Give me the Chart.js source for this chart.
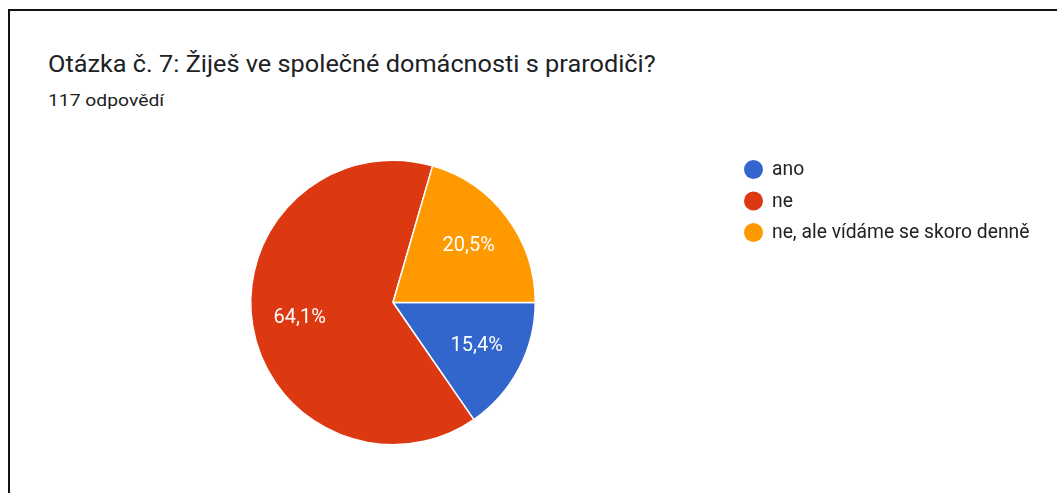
<!DOCTYPE html>
<html lang="cs">
<head>
    <meta charset="UTF-8">
    <script src="https://cdn.jsdelivr.net/npm/chart.js@4"></script>
    <title>Otázka č. 7</title>
    <style>
        body { margin: 0; background: #fff; font-family: Roboto, Arial, sans-serif; }
        #card {
            position: absolute; left: 8px; top: 9px; width: 1200px; height: 600px;
            border: 2px solid #111; box-sizing: border-box;
        }
        #title {
            position: absolute; left: 48px; top: 50px; font-size: 23px; color: #202124;
            white-space: nowrap; line-height: 30px;
            transform: scaleX(1.1); transform-origin: left center;
        }
        #subtitle {
            position: absolute; left: 48px; top: 90px; font-size: 16.5px; color: #202124;
            white-space: nowrap; line-height: 22px;
            transform: scaleX(1.17); transform-origin: left center;
        }
        #wrap { position: absolute; left: 0; top: 0; width: 1057px; height: 493px; }
    </style>
</head>
<body>
    <div id="card"></div>
    <div id="title">Otázka č. 7: Žiješ ve společné domácnosti s prarodiči?</div>
    <div id="subtitle">117 odpovědí</div>
    <div id="wrap"><canvas id="myChart" width="1057" height="493"></canvas></div>

    <script>
        const labels = ['ano', 'ne', 'ne, ale vídáme se skoro denně'];
        const counts = [18, 75, 24];
        const colors = ['#3366cc', '#dc3912', '#ff9900'];

        const total = counts.reduce((a, b) => a + b, 0);
        const pct = v => (v / total * 100).toFixed(1).replace('.', ',') + '%';

        // percentages inside the slices
        const sliceLabels = {
            id: 'sliceLabels',
            afterDatasetsDraw(chart) {
                const ctx = chart.ctx;
                const meta = chart.getDatasetMeta(0);
                ctx.save();
                ctx.font = '20px Roboto';
                ctx.fillStyle = '#ffffff';
                ctx.textAlign = 'center';
                ctx.textBaseline = 'middle';
                meta.data.forEach((arc, i) => {
                    const p = arc.getProps(['x', 'y', 'startAngle', 'endAngle', 'outerRadius']);
                    const mid = (p.startAngle + p.endAngle) / 2;
                    const r = p.outerRadius * 0.665;
                    ctx.fillText(pct(counts[i]), p.x + Math.cos(mid) * r, p.y + Math.sin(mid) * r);
                });
                ctx.restore();
            }
        };

        // legend on the right
        const sideLegend = {
            id: 'sideLegend',
            afterDraw(chart) {
                const ctx = chart.ctx;
                ctx.save();
                ctx.font = '19.3px Roboto';
                ctx.textBaseline = 'middle';
                labels.forEach((lab, i) => {
                    const y = 169.5 + i * 31.5;
                    ctx.fillStyle = colors[i];
                    ctx.beginPath();
                    ctx.arc(753.5, y, 9.5, 0, Math.PI * 2);
                    ctx.fill();
                    ctx.fillStyle = '#222222';
                    ctx.fillText(lab, 772, y + 1);
                });
                ctx.restore();
            }
        };

        let ctx = document.getElementById('myChart').getContext('2d');
        new Chart(ctx, {
            type: 'pie',
            data: {
                labels: labels,
                datasets: [{
                    data: counts,
                    backgroundColor: colors,
                    borderColor: '#ffffff',
                    borderWidth: 1.5
                }]
            },
            options: {
                responsive: false,
                animation: false,
                rotation: 90,
                layout: {
                    padding: { left: 250, top: 159, right: 521, bottom: 47 }
                },
                plugins: {
                    legend: { display: false },
                    tooltip: { enabled: false }
                }
            },
            plugins: [sliceLabels, sideLegend]
        });
    </script>
</body>
</html>
